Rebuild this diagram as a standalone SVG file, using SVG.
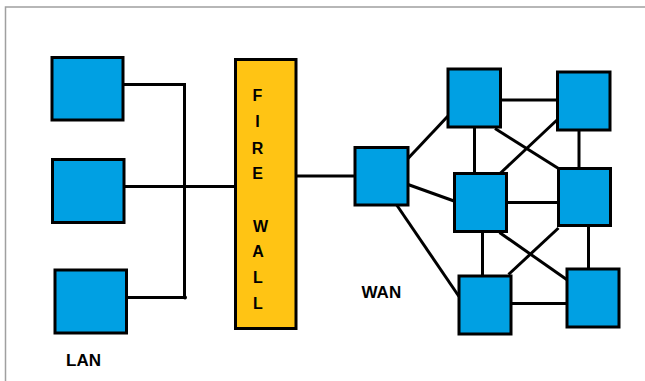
<svg xmlns="http://www.w3.org/2000/svg" width="645" height="381" viewBox="0 0 645 381">
<style>
.node{fill:#00A0E3;stroke:#000;stroke-width:3}
.fw{fill:#FFC414;stroke:#000;stroke-width:3}
.edge{stroke:#000;stroke-width:3;fill:none}
.lbl{font-family:"Liberation Sans",Arial,sans-serif;font-weight:bold;fill:#000}
.fwt{font-family:"Liberation Sans",Arial,sans-serif;font-weight:bold;font-size:16px;fill:#000;text-anchor:middle}
</style>
<rect width="645" height="381" fill="#fff"/>
<path d="M5.5 381 V7 H645" fill="none" stroke="#a0a0a0" stroke-width="1.5"/>
<g id="connectors">
<path class="edge" d="M123 84.5 H184.5 V297.5"/>
<path class="edge" d="M124 186.5 H236"/>
<path class="edge" d="M126.5 297.5 H185"/>
<circle cx="184.5" cy="186.5" r="2"/>
<circle cx="185" cy="297.5" r="2"/>
<path class="edge" d="M296 176 H355"/>
<path class="edge" d="M408 158.5 L448 116"/>
<path class="edge" d="M408 184.5 L454 201"/>
<path class="edge" d="M395 202.5 L459 296.5"/>
<path class="edge" d="M500.5 100 H557.5"/>
<path class="edge" d="M474.5 127 V173.5"/>
<path class="edge" d="M495 128.5 L558.5 168.5"/>
<path class="edge" d="M557 120 L500 173.5"/>
<path class="edge" d="M579 130 V168.5"/>
<path class="edge" d="M506.5 202.5 H558.5"/>
<path class="edge" d="M482.5 231.5 V276"/>
<path class="edge" d="M499.5 232.5 L569.5 281.5"/>
<path class="edge" d="M558.5 228 L508.5 274.5"/>
<path class="edge" d="M588.5 225.5 V269"/>
<path class="edge" d="M511 303.5 H567"/>
</g>
<g id="lan1"><rect class="node" x="52" y="57.5" width="71" height="62.5"/></g>
<g id="lan2"><rect class="node" x="52.5" y="159.5" width="71.5" height="63"/></g>
<g id="lan3"><rect class="node" x="55" y="270" width="71.5" height="63"/></g>
<g id="firewall">
<rect class="fw" x="235.5" y="59.5" width="60.5" height="269"/>
<text class="fwt" x="257.5" y="101">F</text>
<text class="fwt" x="257.5" y="127">I</text>
<text class="fwt" x="257.5" y="154">R</text>
<text class="fwt" x="257.5" y="179">E</text>
<text class="fwt" x="260.5" y="231.5">W</text>
<text class="fwt" x="258" y="256.5">A</text>
<text class="fwt" x="258" y="283">L</text>
<text class="fwt" x="258" y="309">L</text>
</g>
<g id="hub"><rect class="node" x="355" y="147.5" width="53" height="57.5"/></g>
<g id="n1"><rect class="node" x="448" y="69" width="52.5" height="58"/></g>
<g id="n2"><rect class="node" x="557.5" y="72" width="52.5" height="58"/></g>
<g id="n3"><rect class="node" x="454.5" y="173.5" width="52" height="58"/></g>
<g id="n4"><rect class="node" x="558.5" y="168.5" width="52" height="57"/></g>
<g id="n5"><rect class="node" x="459" y="276" width="52" height="58"/></g>
<g id="n6"><rect class="node" x="567" y="269" width="52" height="58"/></g>
<g id="labels">
<text class="lbl" x="361.5" y="298" font-size="17">WAN</text>
<text class="lbl" x="66" y="366" font-size="17">LAN</text>
</g>
</svg>
